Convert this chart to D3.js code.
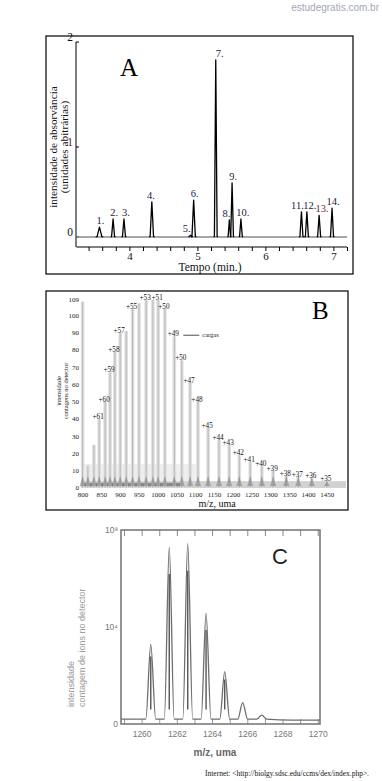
<!DOCTYPE html>
<html><head><meta charset="utf-8">
<script src="https://cdn.jsdelivr.net/npm/d3@7/dist/d3.min.js"></script>
<style>body{margin:0;background:#fff}svg{display:block}</style>
</head><body>
<script>
// ---------- Panel A data (chromatogram) ----------
const aLabels = ["1.","2.","3.","4.","5.","6.","7.","8.","9.","10.","11.","12.","13.","14."];
const aTime   = [3.56,3.76,3.92,4.33,4.90,4.945,5.27,5.47,5.51,5.64,6.53,6.61,6.79,6.98];
const aHeight = [0.11,0.20,0.20,0.39,0.02,0.41,1.83,0.19,0.60,0.20,0.28,0.28,0.24,0.32];
const aHalfWidth = [0.035,0.022,0.022,0.025,0.02,0.025,0.02,0.018,0.02,0.02,0.022,0.022,0.022,0.022];
const aYTicks = [0,1,2];
const aXTickLabels = [4,5,6,7];

// ---------- Panel B data (ESI mass spectrum) ----------
const bMz     = [799,813,829,843,859,872,885,899,915,932,949,968,986,1000,1018,1043,1063,1085,1106,1133,1162,1189,1216,1245,1276,1306,1341,1373,1409,1449];
const bHeight = [108,13,25,40,50,67,79,90,91,104,107,109,109,109,104,88,74,61,50,35,28,25,19,15,13,10,7,6.5,6,4];
const bCharge = ["","","","+61","+60","+59","+58","+57","","+55","","+53","","+51","+50","+49","+50","+47","+48","+45","+44","+43","+42","+41","+40","+39","+38","+37","+36","+35"];
const bYTicks = [0,10,20,30,40,50,60,70,80,90,100,109];
const bXTicks = [800,850,900,950,1000,1050,1100,1150,1200,1250,1300,1350,1400,1450];

// ---------- Panel C data (isotope envelope) ----------
const cMz     = [1260.49,1261.54,1262.59,1263.63,1264.69,1265.71,1266.79];
const cHeight = [0.41,0.91,0.93,0.57,0.27,0.11,0.046];
const cBaseline = 0.025;
const cXTicks = [1260,1262,1264,1266,1268,1270];
const cYTicks = [0,0.5,1];
const cYTickLabels = ["0","10⁴","10⁸"];

const W = 382, H = 781;
const svg = d3.select("body").append("svg").attr("width", W).attr("height", H);
svg.append("rect").attr("width", W).attr("height", H).attr("fill", "#fff");

const serif = "'Liberation Serif','Times New Roman',serif";
const sans = "'Liberation Sans',Arial,sans-serif";

// watermark
svg.append("text").attr("x", 379).attr("y", 11).attr("text-anchor", "end")
  .attr("font-family", sans).attr("font-size", 10).attr("fill", "#a3a7b6")
  .text("estudegratis.com.br");

// ================= Panel A =================
const gA = svg.append("g");
gA.append("rect").attr("x", 46).attr("y", 36).attr("width", 307).attr("height", 238)
  .attr("fill", "none").attr("stroke", "#000").attr("stroke-width", 1.2);

const xA = d3.scaleLinear().domain([3.2, 7.2]).range([75, 347]);
const yA = d3.scaleLinear().domain([0, 1, 2]).range([237, 147, 42]);

// x axis (separate line below baseline)
const axA = d3.axisBottom(xA)
  .tickValues(d3.range(3.4, 7.21, 0.2))
  .tickSize(4)
  .tickFormat(d => aXTickLabels.includes(Math.round(d * 10) / 10) ? String(Math.round(d)) : "");
const gAx = gA.append("g").attr("transform", "translate(0,247)").call(axA);
gAx.select(".domain").attr("d", `M${xA(3.22)},0H${xA(7.2)}`).attr("stroke", "#000");
gAx.selectAll("text").attr("font-family", serif).attr("font-size", 11).attr("fill", "#111")
  .attr("y", 13).attr("dy", 0);

// y axis
gA.append("line").attr("x1", 76).attr("x2", 76).attr("y1", yA(2)).attr("y2", 247).attr("stroke", "#000");
aYTicks.forEach(v => {
  gA.append("line").attr("x1", 76).attr("x2", 79).attr("y1", yA(v)).attr("y2", yA(v)).attr("stroke", "#000");
  gA.append("text").attr("x", 73).attr("y", yA(v) - 1).attr("text-anchor", "end")
    .attr("font-family", serif).attr("font-size", 11.5).attr("fill", v === 1 ? "#5a2030" : "#111")
    .text(v);
});

// baseline trace
gA.append("path").attr("d", d3.line()([[xA(3.22), yA(0)], [xA(7.2), yA(0)]]))
  .attr("stroke", "#8a8a8a").attr("stroke-width", 1.4).attr("fill", "none");
// peaks
const lineA = d3.line().x(d => xA(d[0])).y(d => yA(d[1]));
aTime.forEach((t, i) => {
  const w = aHalfWidth[i];
  gA.append("path")
    .attr("d", lineA([[t - w * 1.6, 0], [t - w, 0.005], [t, aHeight[i]], [t + w, 0.005], [t + w * 1.6, 0]]))
    .attr("stroke", "#000").attr("stroke-width", 1.3).attr("fill", "none").attr("stroke-linejoin", "round");
});
// peak labels
const aLabelDx = [0, 0, 1, -2, -5, 0, 3, -4, 0, 1, -5, 2, 2, 0];
aTime.forEach((t, i) => {
  gA.append("text").attr("x", xA(t) + aLabelDx[i] + 1).attr("y", yA(aHeight[i]) - 3)
    .attr("text-anchor", "middle").attr("font-family", serif).attr("font-size", 10.5)
    .attr("fill", i === 12 ? "#6a1f35" : "#1c2240").text(aLabels[i]);
});
// panel letter
gA.append("text").attr("x", 120).attr("y", 76).attr("font-family", serif).attr("font-size", 25).attr("fill", "#000").text("A");
// titles
gA.append("text").attr("x", 210).attr("y", 270.5).attr("text-anchor", "middle")
  .attr("font-family", serif).attr("font-size", 11.5).attr("fill", "#111").text("Tempo (min.)");
const yTitleA = gA.append("text").attr("transform", "translate(57,147) rotate(-90)")
  .attr("text-anchor", "middle").attr("font-family", serif).attr("font-size", 11.3).attr("fill", "#111");
yTitleA.append("tspan").attr("x", 0).attr("dy", 0).text("intensidade de absorvância");
yTitleA.append("tspan").attr("x", 0).attr("dy", 11).text("(unidades abitrárias)");

// ================= Panel B =================
const gB = svg.append("g");
gB.append("rect").attr("x", 46).attr("y", 291).attr("width", 302).attr("height", 219)
  .attr("fill", "none").attr("stroke", "#000").attr("stroke-width", 1.2);

const xB = d3.scaleLinear().domain([800, 1500]).range([83, 346]);
const yB = d3.scaleLinear().domain([0, 109]).range([488, 300]);

// low-level background band
gB.append("rect").attr("x", xB(800)).attr("y", yB(14)).attr("width", xB(1100) - xB(800)).attr("height", yB(0) - yB(14))
  .attr("fill", "#eeeeee");
gB.append("rect").attr("x", xB(800)).attr("y", yB(4)).attr("width", xB(1500) - xB(800)).attr("height", yB(0) - yB(4))
  .attr("fill", "#d2d2d2");
gB.append("rect").attr("x", xB(800)).attr("y", yB(3)).attr("width", xB(1060) - xB(800)).attr("height", yB(1) - yB(3))
  .attr("fill", "#8a8a8a");

// bars
bMz.forEach((m, i) => {
  gB.append("rect").attr("x", xB(m) - 1.8).attr("y", yB(bHeight[i])).attr("width", 3.6)
    .attr("height", yB(0) - yB(bHeight[i])).attr("fill", "#e0e0e0");
  gB.append("line").attr("x1", xB(m)).attr("x2", xB(m)).attr("y1", yB(bHeight[i])).attr("y2", yB(0))
    .attr("stroke", "#b8b8b8").attr("stroke-width", 1);
  // dark foot of each peak
  gB.append("path").attr("d", d3.line()([[xB(m) - 3, yB(1)], [xB(m), yB(Math.min(7, bHeight[i]))], [xB(m) + 3, yB(1)]]))
    .attr("fill", "#777").attr("stroke", "none").attr("opacity", 0.55);
});

// y tick labels
bYTicks.forEach(v => {
  gB.append("text").attr("x", 79).attr("y", yB(v)).attr("dy", "0.35em").attr("text-anchor", "end")
    .attr("font-family", serif).attr("font-size", 7).attr("fill", "#222").text(v);
});
// x tick labels
bXTicks.forEach(v => {
  gB.append("text").attr("x", xB(v)).attr("y", 497).attr("text-anchor", "middle")
    .attr("font-family", serif).attr("font-size", 7).attr("fill", "#222").text(v);
});
gB.append("text").attr("x", 217).attr("y", 507).attr("text-anchor", "middle")
  .attr("font-family", serif).attr("font-size", 10).attr("fill", "#111").text("m/z, uma");
const yTitleB = gB.append("text").attr("transform", "translate(61,391) rotate(-90)")
  .attr("text-anchor", "middle").attr("font-family", serif).attr("font-size", 6.5).attr("fill", "#222");
yTitleB.append("tspan").attr("x", 0).attr("dy", 0).text("intensidade");
yTitleB.append("tspan").attr("x", 0).attr("dy", 6.5).text("contagens no detector");

// charge labels
bMz.forEach((m, i) => {
  if (!bCharge[i]) return;
  gB.append("text").attr("x", xB(m) - 1).attr("y", yB(bHeight[i] + 1.5)).attr("dy", "0.35em")
    .attr("text-anchor", "middle").attr("font-family", serif).attr("font-size", 7.2).attr("fill", "#111")
    .text(bCharge[i]);
});
// "cargas" annotation
const i49 = bCharge.indexOf("+49");
gB.append("line").attr("x1", xB(bMz[i49]) + 9).attr("x2", xB(bMz[i49]) + 25)
  .attr("y1", yB(bHeight[i49]) - 1).attr("y2", yB(bHeight[i49]) - 1).attr("stroke", "#222").attr("stroke-width", 0.8);
gB.append("text").attr("x", xB(bMz[i49]) + 28).attr("y", yB(bHeight[i49]) - 1).attr("dy", "0.35em")
  .attr("font-family", serif).attr("font-size", 6.5).attr("fill", "#222").text("cargas");
gB.append("text").attr("x", 312).attr("y", 319).attr("font-family", serif).attr("font-size", 25).attr("fill", "#000").text("B");

// ================= Panel C =================
const gC = svg.append("g");
const xC = d3.scaleLinear().domain([1258.8, 1270.1]).range([121, 320]);
const yC = d3.scaleLinear().domain([0, 1]).range([724, 530]);

// ticks inside frame, top & bottom
d3.range(1259, 1270.01, 1).forEach(v => {
  gC.append("line").attr("x1", xC(v)).attr("x2", xC(v)).attr("y1", 530).attr("y2", 536).attr("stroke", "#888");
  gC.append("line").attr("x1", xC(v)).attr("x2", xC(v)).attr("y1", 724).attr("y2", 719).attr("stroke", "#999");
});

// profile
const cPts = [[1258.8, cBaseline], [1259.6, cBaseline]];
cMz.forEach((m, i) => {
  cPts.push([m - 0.28, cBaseline], [m, cHeight[i]], [m + 0.28, cBaseline]);
});
cPts.push([1268.5, cBaseline * 0.8], [1270.1, cBaseline * 0.8]);
gC.append("path").attr("d", d3.line().x(d => xC(d[0])).y(d => yC(d[1])).curve(d3.curveMonotoneX)(cPts))
  .attr("fill", "none").attr("stroke", "#6e6e6e").attr("stroke-width", 1.3);
// dark cores of peaks
cMz.forEach((m, i) => {
  if (cHeight[i] < 0.2) return;
  gC.append("line").attr("x1", xC(m)).attr("x2", xC(m)).attr("y1", yC(cBaseline + 0.05)).attr("y2", yC(cHeight[i] * 0.85))
    .attr("stroke", "#555").attr("stroke-width", 1.4);
});

gC.append("rect").attr("x", 121).attr("y", 530).attr("width", 199).attr("height", 194)
  .attr("fill", "none").attr("stroke", "#7a7a7a").attr("stroke-width", 1.6);

cXTicks.forEach(v => {
  gC.append("text").attr("x", xC(v)).attr("y", 737).attr("text-anchor", "middle")
    .attr("font-family", sans).attr("font-size", 8.5).attr("fill", "#777").text(v);
});
cYTicks.forEach((v, i) => {
  gC.append("text").attr("x", 118).attr("y", yC(v)).attr("dy", "0.35em").attr("text-anchor", "end")
    .attr("font-family", sans).attr("font-size", 8.5).attr("fill", "#777").text(cYTickLabels[i]);
});
gC.append("text").attr("x", 215).attr("y", 756).attr("text-anchor", "middle")
  .attr("font-family", sans).attr("font-size", 10).attr("font-weight", "bold").attr("fill", "#666").text("m/z, uma");
const yTitleC = gC.append("text").attr("transform", "translate(74,707) rotate(-90)")
  .attr("text-anchor", "start").attr("font-family", sans).attr("font-size", 9).attr("fill", "#9a9a9a");
yTitleC.append("tspan").attr("x", 0).attr("dy", 0).text("intensidade");
yTitleC.append("tspan").attr("x", 0).attr("dy", 11).text("contagem de ions no detector");
gC.append("text").attr("x", 272).attr("y", 564).attr("font-family", sans).attr("font-size", 22).attr("fill", "#222").text("C");

// footer
svg.append("text").attr("x", 205).attr("y", 776).attr("font-family", serif).attr("font-size", 7.5).attr("fill", "#111")
  .text("Internet: <http://biolgy.sdsc.edu/ccms/dex/index.php>.");
</script>
</body></html>
